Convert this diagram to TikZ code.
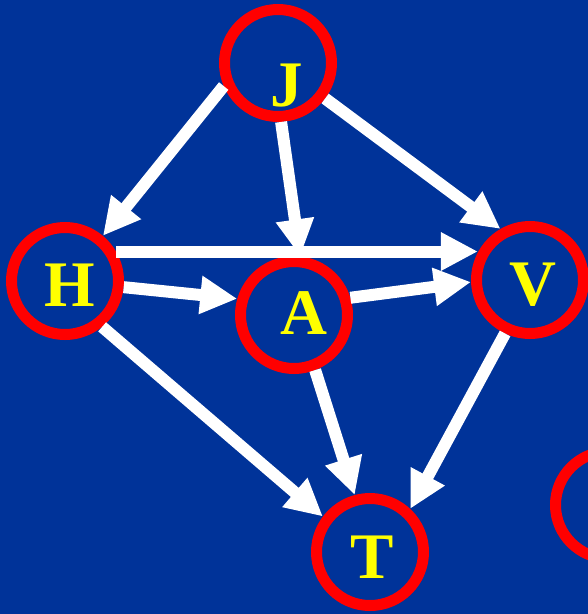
\documentclass[tikz,border=0pt]{standalone}
\usepackage{fontspec}
\setmainfont{Liberation Serif}
\usetikzlibrary{arrows.meta}
\definecolor{slideblue}{HTML}{003399}
\definecolor{ringred}{HTML}{FF0000}
\definecolor{nameyellow}{HTML}{FFFF00}

\begin{document}
\begin{tikzpicture}[x=1pt,y=-1pt,
  ring/.style={circle,draw=ringred,line width=11pt,minimum size=107pt,inner sep=0pt},
  nametag/.style={text=nameyellow,font=\fontsize{65}{65}\selectfont\bfseries,inner sep=0pt},
  arrowline/.style={draw=white,line width=12pt,-{Triangle[length=37pt,width=36pt]}}]
  \clip (0,0) rectangle (588,614);
  \fill[slideblue] (0,0) rectangle (588,614);
  % rings
  \node[ring] (J) at (278,63) {};
  \node[ring] (H) at (65,281) {};
  \node[ring] (A) at (294,315) {};
  \node[ring] (V) at (530,280) {};
  \node[ring] (T) at (370,552) {};
  \node[ring] (X) at (609,505) {};
  % letters
  \node[nametag] (Jname) at (287,86) {J};
  \node[nametag] (Hname) at (70,285) {H};
  \node[nametag] (Aname) at (304,313) {A};
  \node[nametag] (Vname) at (533,285) {V};
  \node[nametag] (Tname) at (372,557) {T};
  % arrows
  \draw[arrowline] (J.-157) -- (H.50);
  \draw[arrowline] (J.-87) -- (A.84);
  \draw[arrowline] (J.-37) -- (V.120);
  \draw[arrowline] (H.30) -- (V.152 |- H.30);
  \draw[arrowline] (H.-6) -- (A.164);
  \draw[arrowline] (A.17) -- (V.-178);
  \draw[arrowline] (H.-51) -- (T.143);
  \draw[arrowline] (A.-69) -- (T.105);
  \draw[arrowline] (V.-115) -- (T.47);
\end{tikzpicture}
\end{document}
